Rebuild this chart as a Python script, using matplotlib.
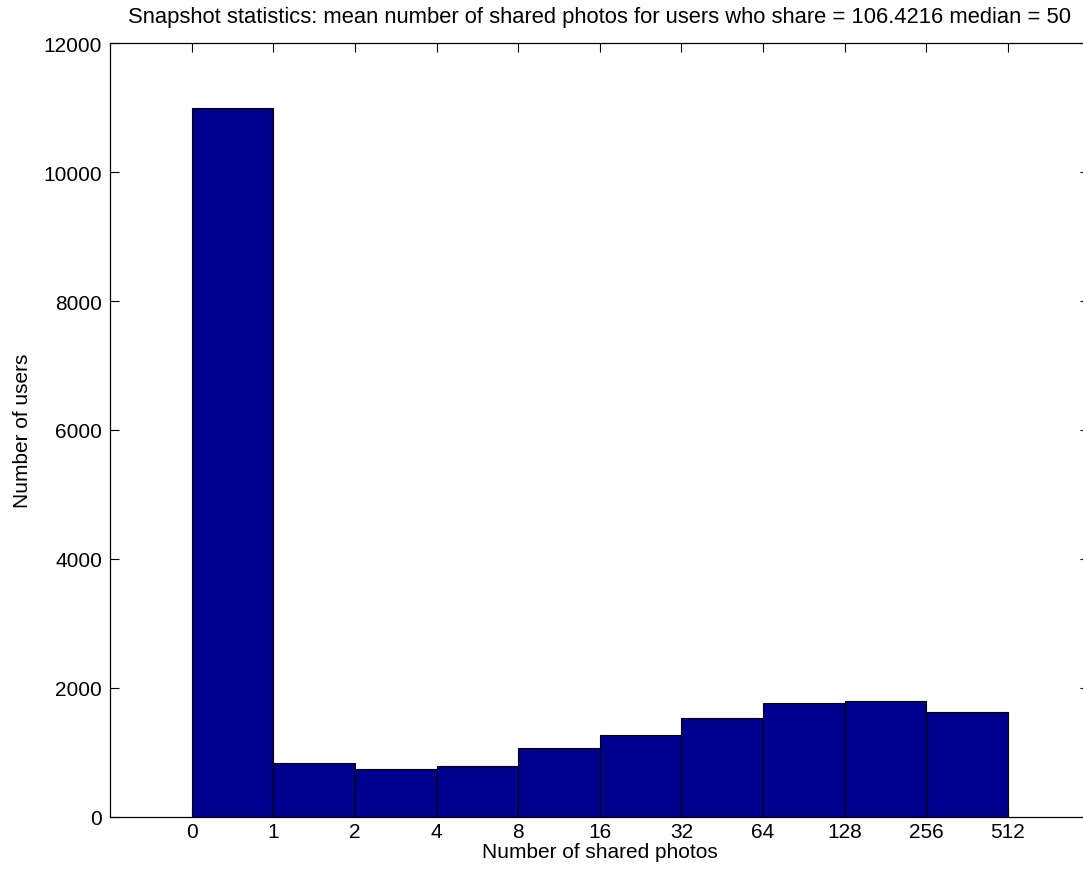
import matplotlib
matplotlib.use("Agg")
import matplotlib.pyplot as plt
import numpy as np

# Histogram of shared photo counts, log2 bins
bin_labels = ["0", "1", "2", "4", "8", "16", "32", "64", "128", "256", "512"]
user_counts = [11000, 838, 735, 791, 1061, 1272, 1536, 1769, 1790, 1625]

title = "Snapshot statistics: mean number of shared photos for users who share = 106.4216 median = 50"

plt.rcParams["font.family"] = ["Liberation Sans", "DejaVu Sans"]
plt.rcParams["font.size"] = 15

fig = plt.figure(figsize=(10.83, 8.78), dpi=100)
# Axes run slightly past the right edge of the figure
ax = fig.add_axes([110.3 / 1083, 60.3 / 878, 979 / 1083, 773.4 / 878])

# Bars sit between bin edges, so the left edge is at the bin index
edges = np.arange(len(user_counts))
ax.bar(edges, user_counts, width=1.0, align="edge",
       color="#00008F", edgecolor="black", linewidth=0.8, zorder=2)

ax.set_xlim(-1, 11)
ax.set_ylim(0, 12000)
ax.set_xticks(np.arange(len(bin_labels)))
ax.set_xticklabels(bin_labels)
ax.set_yticks(np.arange(0, 12001, 2000))

ax.tick_params(direction="in", length=6.5, width=0.8,
               top=True, right=True, labelsize=15)
ax.tick_params(axis="x", pad=4)
ax.tick_params(axis="y", pad=6)
for sp in ax.spines.values():
    sp.set_linewidth(0.9)

ax.set_xlabel("Number of shared photos", fontsize=15, labelpad=0.5)
ax.set_ylabel("Number of users", fontsize=15, labelpad=8.5)
ax.set_title(title, fontsize=15.8, pad=15)

fig.savefig("out.png", dpi=100, facecolor="white")
